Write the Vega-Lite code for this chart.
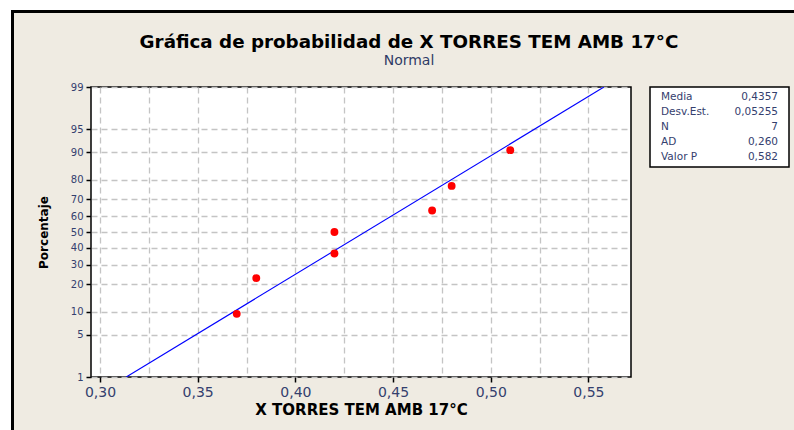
{
  "$schema": "https://vega.github.io/schema/vega-lite/v6.json",
  "background": "#EFEBE2",
  "padding": 0,
  "autosize": {"type": "pad"},
  "columns": 7,
  "spacing": 0,
  "bounds": "flush",
  "config": {
    "font": "DejaVu Sans",
    "view": {"stroke": null},
    "concat": {"spacing": 0}
  },
  "concat": [
    {"width": 11, "height": 10, "view": {"fill": "#ffffff"}, "data": {"values": []}, "mark": "point", "encoding": {}},
    {"width": 3, "height": 10, "view": {"fill": "#ffffff"}, "data": {"values": []}, "mark": "point", "encoding": {}},
    {"width": 77, "height": 10, "view": {"fill": "#ffffff"}, "data": {"values": []}, "mark": "point", "encoding": {}},
    {"width": 540, "height": 10, "view": {"fill": "#ffffff"}, "data": {"values": []}, "mark": "point", "encoding": {}},
    {"width": 19, "height": 10, "view": {"fill": "#ffffff"}, "data": {"values": []}, "mark": "point", "encoding": {}},
    {"width": 139, "height": 10, "view": {"fill": "#ffffff"}, "data": {"values": []}, "mark": "point", "encoding": {}},
    {"width": 5, "height": 10, "view": {"fill": "#ffffff"}, "data": {"values": []}, "mark": "point", "encoding": {}},

    {"width": 11, "height": 3, "view": {"fill": "#ffffff"}, "data": {"values": []}, "mark": "point", "encoding": {}},
    {"width": 3, "height": 3, "view": {"fill": "#000000"}, "data": {"values": []}, "mark": "point", "encoding": {}},
    {"width": 77, "height": 3, "view": {"fill": "#000000"}, "data": {"values": []}, "mark": "point", "encoding": {}},
    {"width": 540, "height": 3, "view": {"fill": "#000000"}, "data": {"values": []}, "mark": "point", "encoding": {}},
    {"width": 19, "height": 3, "view": {"fill": "#000000"}, "data": {"values": []}, "mark": "point", "encoding": {}},
    {"width": 139, "height": 3, "view": {"fill": "#000000"}, "data": {"values": []}, "mark": "point", "encoding": {}},
    {"width": 5, "height": 3, "view": {"fill": "#000000"}, "data": {"values": []}, "mark": "point", "encoding": {}},

    {"width": 11, "height": 74, "view": {"fill": "#ffffff"}, "data": {"values": []}, "mark": "point", "encoding": {}},
    {"width": 3, "height": 74, "view": {"fill": "#000000"}, "data": {"values": []}, "mark": "point", "encoding": {}},
    {"width": 77, "height": 74, "data": {"values": []}, "mark": "point", "encoding": {}},
    {"width": 540, "height": 74, "data": {"values": []}, "mark": "point", "encoding": {}},
    {"width": 19, "height": 74, "data": {"values": []}, "mark": "point", "encoding": {}},
    {"width": 139, "height": 74, "data": {"values": []}, "mark": "point", "encoding": {}},
    {"width": 5, "height": 74, "data": {"values": []}, "mark": "point", "encoding": {}},

    {"width": 11, "height": 290, "view": {"fill": "#ffffff"}, "data": {"values": []}, "mark": "point", "encoding": {}},
    {"width": 3, "height": 290, "view": {"fill": "#000000"}, "data": {"values": []}, "mark": "point", "encoding": {}},
    {"width": 77, "height": 290, "data": {"values": []}, "mark": "point", "encoding": {}},
    {
      "width": 540,
      "height": 290,
      "view": {"fill": "#ffffff", "stroke": "#000000", "strokeWidth": 1.5},
      "title": {
        "text": "Gráfica de probabilidad de X TORRES TEM AMB 17°C",
        "subtitle": "Normal",
        "anchor": "middle",
        "dx": 48,
        "offset": 13,
        "fontSize": 18.3,
        "fontWeight": "bold",
        "color": "#000000",
        "subtitleFontSize": 14,
        "subtitleColor": "#2F3B66",
        "subtitlePadding": 2
      },
      "layer": [
        {
          "data": {"values": [
            {"x": 0.31345, "pct": 1},
            {"x": 0.55795, "pct": 99}
          ]},
          "transform": [{"calculate": "quantileNormal(datum.pct / 100)", "as": "z"}],
          "mark": {"type": "line", "color": "#0000FF", "strokeWidth": 1.1, "clip": true},
          "encoding": {
            "x": {
              "field": "x",
              "type": "quantitative",
              "title": "X TORRES TEM AMB 17°C",
              "scale": {"domain": [0.2954, 0.5718], "nice": false, "zero": false},
              "axis": {
                "values": [0.3, 0.325, 0.35, 0.375, 0.4, 0.425, 0.45, 0.475, 0.5, 0.525, 0.55],
                "tickCount": 30,
                "labelExpr": "abs(datum.value * 20 - round(datum.value * 20)) < 0.001 ? replace(format(datum.value, '.2f'), '.', ',') : ''",
                "tickOpacity": {"condition": {"test": "abs(datum.value * 20 - round(datum.value * 20)) < 0.001", "value": 1}, "value": 0},
                "labelOverlap": false,
                "labelFlush": false,
                "domain": false,
                "grid": true,
                "gridDash": [6, 4],
                "gridColor": "#C4C4C4",
                "gridWidth": 1.3,
                "tickColor": "#000000",
                "tickSize": 5,
                "tickWidth": 1.5,
                "labelFontSize": 14,
                "labelColor": "#34406E",
                "labelPadding": 3,
                "titleFontSize": 15,
                "titleFontWeight": "bold",
                "titleColor": "#000000",
                "titlePadding": 3
              }
            },
            "y": {
              "field": "z",
              "type": "quantitative",
              "title": "Porcentaje",
              "scale": {"domain": [-2.3263, 2.3263], "nice": false, "zero": false},
              "axis": {
                "values": [-2.3263, -1.6449, -1.2816, -0.8416, -0.5244, -0.2533, 0, 0.2533, 0.5244, 0.8416, 1.2816, 1.6449, 2.3263],
                "tickCount": 30,
                "labelExpr": "format(cumulativeNormal(datum.value) * 100, '.0f')",
                "labelOverlap": false,
                "labelFlush": false,
                "domain": false,
                "grid": true,
                "gridDash": [6, 4],
                "gridColor": "#C4C4C4",
                "gridWidth": 1.3,
                "tickColor": "#000000",
                "tickSize": 5,
                "tickWidth": 1.5,
                "labelFontSize": 10,
                "labelColor": "#34406E",
                "labelPadding": 3,
                "titleFontSize": 12,
                "titleFontWeight": "bold",
                "titleColor": "#000000",
                "titlePadding": 20
              }
            }
          }
        },
        {
          "data": {"values": [
            {"x": 0.37, "pct": 9.46},
            {"x": 0.38, "pct": 22.97},
            {"x": 0.42, "pct": 36.49},
            {"x": 0.42, "pct": 50.0},
            {"x": 0.47, "pct": 63.51},
            {"x": 0.48, "pct": 77.03},
            {"x": 0.51, "pct": 90.54}
          ]},
          "transform": [{"calculate": "quantileNormal(datum.pct / 100)", "as": "z"}],
          "mark": {"type": "point", "shape": "circle", "filled": true, "size": 62, "color": "#FF0000", "opacity": 1},
          "encoding": {
            "x": {"field": "x", "type": "quantitative"},
            "y": {"field": "z", "type": "quantitative"}
          }
        }
      ]
    },
    {"width": 19, "height": 290, "data": {"values": []}, "mark": "point", "encoding": {}},
    {
      "width": 139,
      "height": 80,
      "view": {"fill": "#ffffff", "stroke": "#000000", "strokeWidth": 1.5},
      "data": {"values": [
        {"stat": "Media", "valor": "0,4357"},
        {"stat": "Desv.Est.", "valor": "0,05255"},
        {"stat": "N", "valor": "7"},
        {"stat": "AD", "valor": "0,260"},
        {"stat": "Valor P", "valor": "0,582"}
      ]},
      "encoding": {
        "y": {"field": "stat", "type": "nominal", "sort": null, "scale": {"type": "point", "padding": 0.7}, "axis": null}
      },
      "layer": [
        {
          "mark": {"type": "text", "align": "left", "fontSize": 10.5, "color": "#34406E"},
          "encoding": {
            "x": {"datum": "nombre", "type": "nominal", "scale": {"type": "point", "domain": ["nombre", "valor"], "padding": 0.094}, "axis": null},
            "text": {"field": "stat"}
          }
        },
        {
          "mark": {"type": "text", "align": "right", "fontSize": 10.5, "color": "#34406E"},
          "encoding": {
            "x": {"datum": "valor", "type": "nominal"},
            "text": {"field": "valor"}
          }
        }
      ]
    },
    {"width": 5, "height": 290, "data": {"values": []}, "mark": "point", "encoding": {}},

    {"width": 11, "height": 53, "view": {"fill": "#ffffff"}, "data": {"values": []}, "mark": "point", "encoding": {}},
    {"width": 3, "height": 53, "view": {"fill": "#000000"}, "data": {"values": []}, "mark": "point", "encoding": {}},
    {"width": 77, "height": 53, "data": {"values": []}, "mark": "point", "encoding": {}},
    {"width": 540, "height": 53, "data": {"values": []}, "mark": "point", "encoding": {}},
    {"width": 19, "height": 53, "data": {"values": []}, "mark": "point", "encoding": {}},
    {"width": 139, "height": 53, "data": {"values": []}, "mark": "point", "encoding": {}},
    {"width": 5, "height": 53, "data": {"values": []}, "mark": "point", "encoding": {}}
  ]
}
